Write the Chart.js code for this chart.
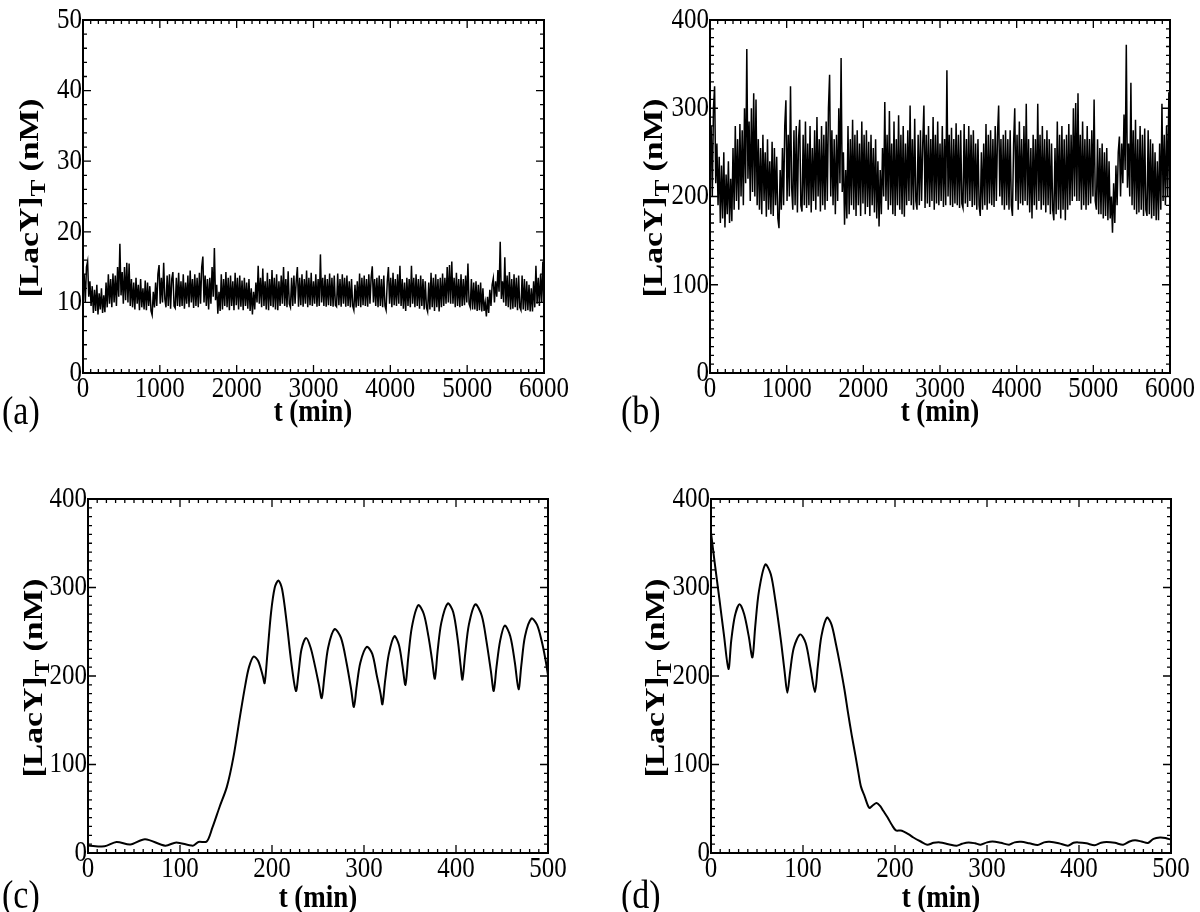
<!DOCTYPE html>
<html>
<head>
<meta charset="utf-8">
<script src="https://cdn.jsdelivr.net/npm/chart.js@4.4.1/dist/chart.umd.min.js"></script>
<style>
  html, body { margin: 0; padding: 0; background: #fff; }
  #page { position: relative; width: 1200px; height: 912px; overflow: hidden; background: #fff; }
  canvas { position: absolute; }
  .lbl { position: absolute; font-family: "Liberation Serif", "Times New Roman", serif; color: #000; white-space: nowrap; line-height: 1; }
  .xt { font-weight: bold; font-size: 27px; transform: translate(-50%, -50%) scaleY(1.2); }
  .yt { font-weight: bold; font-size: 28px; transform: translate(-50%, -50%) rotate(-90deg) scaleX(1.2); }
  .yt sub { font-size: 0.75em; vertical-align: -0.3em; line-height: 1; }
  .pl { font-size: 34px; transform: translate(0, -50%) scaleY(1.2); }
</style>
</head>
<body>
<div id="page">
  <canvas id="ca"></canvas>
  <canvas id="cb"></canvas>
  <canvas id="cc"></canvas>
  <canvas id="cd"></canvas>

  <div class="lbl xt" style="left:313px; top:411px;">t (min)</div>
  <div class="lbl xt" style="left:940px; top:411px;">t (min)</div>
  <div class="lbl xt" style="left:318px; top:897px;">t (min)</div>
  <div class="lbl xt" style="left:941px; top:897px;">t (min)</div>

  <div class="lbl yt" style="left:32px; top:198px;">[LacY]<sub>T</sub> (nM)</div>
  <div class="lbl yt" style="left:656px; top:198px;">[LacY]<sub>T</sub> (nM)</div>
  <div class="lbl yt" style="left:36px; top:678px;">[LacY]<sub>T</sub> (nM)</div>
  <div class="lbl yt" style="left:658px; top:678px;">[LacY]<sub>T</sub> (nM)</div>

  <div class="lbl pl" style="left:2px; top:411px;">(a)</div>
  <div class="lbl pl" style="left:621px; top:411px;">(b)</div>
  <div class="lbl pl" style="left:2px; top:895px;">(c)</div>
  <div class="lbl pl" style="left:621px; top:895px;">(d)</div>
</div>

<script>
// sampling step (min) of the long noisy runs in (a) and (b)
const noiseStep = 15;

// panel (a): [LacY]T in nM, t = 0..6000 min
const aValues = [
  11.5,14.0,10.0,15.0,15.8,10.8,13.0,9.5,12.3,8.5,11.8,8.8,12.5,8.3,11.3,9.0,12.0,8.5,11.0,8.6,
  12.8,9.3,14.0,9.8,13.3,9.3,14.1,10.0,13.8,9.5,15.0,10.8,18.3,11.0,14.3,9.8,15.0,10.3,15.6,10.0,
  15.5,9.5,13.3,9.3,12.8,9.0,13.5,9.8,12.5,8.9,13.3,9.3,12.0,9.0,13.1,8.9,12.8,9.5,12.3,8.8,
  8.2,11.5,9.3,12.8,9.5,14.0,15.3,9.8,13.5,10.0,15.6,10.5,9.3,13.8,9.5,14.0,9.1,13.3,14.3,9.5,
  9.2,13.5,9.5,14.2,9.4,13.0,9.5,14.0,9.1,12.8,9.8,13.8,9.3,14.5,10.0,13.3,9.2,14.0,9.5,13.5,
  9.3,14.2,9.8,15.0,16.5,10.0,13.8,9.5,13.3,9.0,13.5,9.8,15.0,10.8,17.7,10.3,12.5,8.4,11.5,8.8,
  14.0,9.0,13.3,9.5,14.3,9.3,13.5,8.9,13.8,9.5,13.0,8.9,14.2,9.6,13.5,9.0,13.8,9.4,13.1,8.9,
  13.5,9.5,12.8,9.1,13.3,8.8,12.0,8.3,11.5,9.0,12.8,10.0,15.2,9.8,13.5,9.3,14.8,9.5,13.0,9.0,
  14.2,8.9,13.3,9.5,14.6,9.3,13.5,9.0,14.0,8.9,13.0,9.5,13.8,9.8,15.0,9.5,13.3,9.3,14.4,9.8,
  9.3,13.5,9.5,13.8,9.8,13.0,15.0,9.4,13.5,9.6,14.0,9.4,13.3,9.8,14.5,9.3,13.5,9.6,14.2,9.5,
  13.0,9.8,14.0,9.4,13.3,9.5,16.8,10.0,13.5,9.5,13.9,9.4,13.3,9.6,14.1,9.5,13.5,9.4,13.8,9.6,
  9.4,14.1,9.6,13.3,9.4,14.0,9.8,13.5,9.4,13.8,9.5,13.0,9.3,13.3,9.5,8.9,12.5,9.3,13.0,9.5,
  14.1,9.3,13.5,9.6,13.8,9.5,13.3,9.4,14.0,9.8,13.5,15.1,10.0,13.3,9.5,13.5,9.3,13.8,9.5,13.3,
  9.3,13.8,9.5,8.9,13.0,15.0,9.8,13.5,9.3,14.2,9.6,13.3,9.5,14.0,9.8,15.2,9.5,13.3,9.1,12.8,
  8.8,13.5,9.5,13.3,9.3,15.2,9.8,13.5,9.3,14.0,9.5,13.3,9.1,13.8,9.5,13.3,9.0,13.0,9.3,8.7,
  12.8,9.0,14.2,9.3,13.5,8.8,14.0,9.3,13.3,8.7,13.5,9.3,14.1,9.5,13.5,9.8,15.0,10.0,15.3,9.8,
  15.8,9.8,13.5,9.3,14.2,9.5,13.3,9.3,14.0,9.5,13.3,9.6,13.8,10.0,15.5,9.8,9.3,13.3,9.0,12.8,
  9.0,13.0,8.8,12.5,8.9,12.8,8.7,12.0,8.8,10.0,8.0,10.8,8.5,11.8,9.5,12.5,13.4,10.0,13.0,10.8,
  14.6,11.5,18.6,10.5,13.0,10.0,16.4,9.5,13.8,9.3,14.3,9.0,13.3,9.1,14.0,9.3,13.5,8.9,13.8,9.3,
  8.9,13.8,9.0,13.3,8.8,13.0,8.9,12.5,8.7,12.0,8.7,13.0,9.3,15.2,9.8,13.5,9.5,14.0,10.0,15.8,
  9.3
];

// panel (b): [LacY]T in nM, t = 0..6000 min
const bValues = [
  230,280,200,300,325,215,260,190,245,170,235,175,250,165,225,180,240,170,220,172,
  255,185,280,195,265,185,282,200,275,190,300,215,367,220,285,195,300,205,317,200,
  310,190,265,185,255,180,270,195,250,177,265,185,240,180,262,178,255,190,245,175,
  164,230,185,255,190,280,309,195,270,200,325,210,185,275,190,280,182,265,287,190,
  183,270,190,285,187,260,190,280,182,255,195,275,185,290,200,265,183,280,190,270,
  185,285,195,300,338,200,275,190,265,180,270,195,300,215,357,205,250,168,230,175,
  280,180,265,190,287,185,270,178,275,190,260,178,285,192,270,180,275,188,262,178,
  270,190,255,182,265,175,240,166,230,180,255,200,307,195,270,185,297,190,260,180,
  285,178,265,190,292,185,270,180,280,177,260,190,275,195,303,190,265,185,288,195,
  185,270,190,275,195,260,303,187,270,192,280,188,265,195,290,185,270,192,285,190,
  260,195,280,188,265,190,343,200,270,190,278,188,265,192,283,190,270,187,275,192,
  187,282,192,265,188,280,195,270,188,275,190,260,185,265,190,178,250,185,260,190,
  282,185,270,192,275,190,265,188,280,195,270,303,200,265,190,270,185,275,190,265,
  185,275,190,178,260,300,195,270,185,285,192,265,190,280,195,305,190,265,182,255,
  175,270,190,265,185,305,195,270,185,280,190,265,182,275,190,265,180,260,185,173,
  255,180,285,185,270,175,280,185,265,173,270,185,282,190,270,195,300,200,306,195,
  317,195,270,185,285,190,265,185,280,190,265,192,275,200,310,195,185,265,180,255,
  180,260,175,250,178,255,173,240,175,200,159,215,170,235,190,250,268,200,260,215,
  293,230,372,210,260,200,329,190,275,185,287,180,265,182,280,185,270,178,277,185,
  178,275,180,265,175,260,178,250,173,240,173,260,185,305,195,270,190,280,200,318,
  185
];

// panel (c)
const cTime = [0,18,31,46,62,84,96,114,120,129,
  135,143,151,158,165,171,175,180,185,190,
  192,195,199,203,207,211,216,221,226,229,
  232,237,242,247,251,254,257,261,268,275,
  281,286,289,292,296,303,309,314,318,320,
  323,327,333,338,342,345,348,352,359,365,
  370,374,377,380,384,391,397,402,405,407,
  410,414,421,428,433,438,441,444,448,453,
  459,464,468,471,475,482,488,493,497,500];
const cValue = [8.5,7.5,12.5,9.5,15.5,8.3,12,8.3,12.5,13,
  28,52,75,108,153,190,210,222,217,200,
  192,225,272,300,308,298,260,215,183,205,
  230,243,232,210,190,175,200,232,253,243,
  215,185,165,188,215,233,225,200,180,168,
  195,225,245,235,210,190,220,255,280,270,
  245,218,197,228,260,282,272,240,212,196,
  225,258,281,268,240,205,183,210,240,257,
  245,215,185,212,245,265,258,240,220,201];

// panel (d)
const dTime = [0,4,9,14,19,22,26,31,36,41,
  45,48,52,59,65,70,76,80,83,86,
  90,97,103,108,113,116,120,126,131,136,
  140,145,149,153,157,160,163,167,172,176,
  180,184,187,192,197,201,206,209,215,220,
  228,235,242,249,258,267,273,280,287,293,
  300,306,315,324,330,337,346,355,362,368,
  378,388,394,399,408,417,424,430,439,448,
  455,461,468,475,481,488,494,500];
const dValue = [362,328,288,247,208,240,268,281,270,245,
  221,255,295,326,315,285,240,205,181,205,
  232,247,237,210,182,210,245,266,258,235,
  214,185,158,133,110,92,75,64,51,54,
  56.5,53,48,40,31,25.5,25.5,24.5,21,17.5,
  13,9.4,11.5,12,10,8.3,10.5,12,11,9.4,
  12,13,11.5,9.4,12,12.6,11,9,12,12.6,
  11,8.3,11.5,12,11,8.7,11.5,12.3,11.5,9.4,
  13,14.3,13,11.3,16,17.6,17,15];

const noiseTime = aValues.map((_, i) => i * noiseStep);

// the original figure is a little stretched vertically; text is drawn the same way
const stretchY = 1.2;
const tickFont = "25px 'Liberation Serif', 'Times New Roman', serif";

// box with inward major/minor ticks on all four sides, plus tick labels
const framePlugin = {
  id: "frame",
  afterDraw(chart, args, opts) {
    const { ctx, chartArea: a } = chart;
    const x = chart.scales.x, y = chart.scales.y;
    ctx.save();
    ctx.strokeStyle = "#000";
    ctx.lineWidth = 1.3;
    ctx.beginPath();
    const nx = Math.round((x.max - x.min) / opts.xMinor);
    for (let i = 0; i <= nx; i++) {
      const px = x.getPixelForValue(x.min + i * opts.xMinor);
      const len = i % opts.xSub === 0 ? 8 : 4;
      ctx.moveTo(px, a.bottom); ctx.lineTo(px, a.bottom - len);
      ctx.moveTo(px, a.top); ctx.lineTo(px, a.top + len);
    }
    const ny = Math.round((y.max - y.min) / opts.yMinor);
    for (let i = 0; i <= ny; i++) {
      const py = y.getPixelForValue(y.min + i * opts.yMinor);
      const len = i % opts.ySub === 0 ? 8 : 4;
      ctx.moveTo(a.left, py); ctx.lineTo(a.left + len, py);
      ctx.moveTo(a.right, py); ctx.lineTo(a.right - len, py);
    }
    ctx.stroke();
    ctx.lineWidth = 2;
    ctx.strokeRect(a.left, a.top, a.right - a.left, a.bottom - a.top);

    ctx.fillStyle = "#000";
    ctx.font = tickFont;
    ctx.textBaseline = "middle";
    ctx.textAlign = "center";
    x.ticks.forEach(t => {
      ctx.save();
      ctx.translate(x.getPixelForValue(t.value), a.bottom + 16);
      ctx.scale(1, stretchY);
      ctx.fillText(String(t.value), 0, 0);
      ctx.restore();
    });
    ctx.textAlign = "right";
    y.ticks.forEach(t => {
      ctx.save();
      ctx.translate(a.left - 1, y.getPixelForValue(t.value));
      ctx.scale(1, stretchY);
      ctx.fillText(String(t.value), 0, 0);
      ctx.restore();
    });
    ctx.restore();
  }
};

function panel(id, box, plot, times, values, ax) {
  const cv = document.getElementById(id);
  cv.width = box.w; cv.height = box.h;
  cv.style.left = box.x + "px"; cv.style.top = box.y + "px";
  const yW = 50, xH = 30;
  return new Chart(cv.getContext("2d"), {
    type: "line",
    data: {
      datasets: [{
        data: times.map((t, i) => ({ x: t, y: values[i] })),
        borderColor: "#000",
        borderWidth: ax.lw,
        pointRadius: 0,
        tension: ax.tension,
        fill: false
      }]
    },
    options: {
      responsive: false,
      animation: false,
      layout: {
        padding: {
          left: plot.l - box.x - yW,
          top: plot.t - box.y,
          right: box.x + box.w - plot.r,
          bottom: box.y + box.h - plot.b - xH
        }
      },
      plugins: {
        legend: { display: false },
        tooltip: { enabled: false },
        frame: { xMinor: ax.xStep / ax.xSub, xSub: ax.xSub, yMinor: ax.yStep / ax.ySub, ySub: ax.ySub }
      },
      scales: {
        x: {
          type: "linear", min: 0, max: ax.xMax,
          grid: { display: false, drawTicks: false },
          border: { display: false },
          ticks: { stepSize: ax.xStep, display: false },
          afterFit: s => { s.height = xH; }
        },
        y: {
          type: "linear", min: 0, max: ax.yMax,
          grid: { display: false, drawTicks: false },
          border: { display: false },
          ticks: { stepSize: ax.yStep, display: false },
          afterFit: s => { s.width = yW; }
        }
      }
    },
    plugins: [framePlugin]
  });
}

panel("ca", { x: 0, y: 0, w: 600, h: 400 }, { l: 83, t: 20, r: 544, b: 373 }, noiseTime, aValues,
  { xMax: 6000, xStep: 1000, xSub: 10, yMax: 50, yStep: 10, ySub: 5, lw: 1.5, tension: 0 });
panel("cb", { x: 600, y: 0, w: 600, h: 400 }, { l: 710, t: 20, r: 1170, b: 373 }, noiseTime, bValues,
  { xMax: 6000, xStep: 1000, xSub: 10, yMax: 400, yStep: 100, ySub: 10, lw: 1.5, tension: 0 });
panel("cc", { x: 0, y: 470, w: 600, h: 420 }, { l: 88, t: 499, r: 548, b: 853 }, cTime, cValue,
  { xMax: 500, xStep: 100, xSub: 10, yMax: 400, yStep: 100, ySub: 10, lw: 2, tension: 0.3 });
panel("cd", { x: 600, y: 470, w: 600, h: 420 }, { l: 711, t: 499, r: 1171, b: 853 }, dTime, dValue,
  { xMax: 500, xStep: 100, xSub: 10, yMax: 400, yStep: 100, ySub: 10, lw: 2, tension: 0.3 });
</script>
</body>
</html>
